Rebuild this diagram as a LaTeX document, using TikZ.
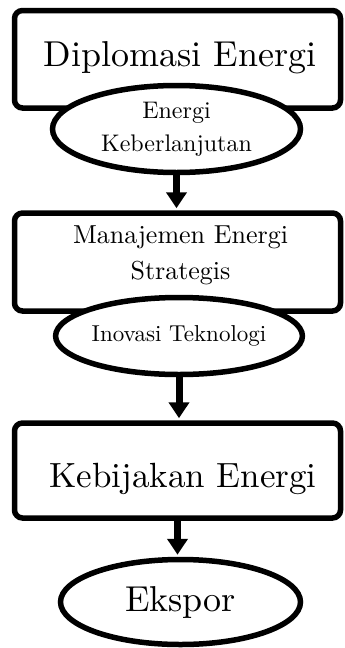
\documentclass[tikz,border=0pt]{standalone}
\usepackage{fontspec}
\setmainfont{lmroman10-regular.otf}
\usetikzlibrary{arrows.meta,shapes.geometric}
\definecolor{cInk}{HTML}{000000}
\tikzset{
  every node/.style={text=cInk},
  box/.style={draw=cInk, line width=5.5pt, rounded corners=8pt, minimum width=326pt, inner sep=0pt},
  oval/.style={ellipse, draw=cInk, fill=white, line width=5.5pt, inner sep=0pt, align=center},
  big/.style={font=\fontsize{36}{40}\selectfont},
  arr/.style={-{Triangle[width=20pt,length=16pt]}, line width=7pt, draw=cInk, shorten >=2pt},
}
\begin{document}
\begin{tikzpicture}[x=1pt,y=-1pt]
\useasboundingbox (0,0) rectangle (345,648);
% boxes
\node[box, minimum height=97.5pt] (dip) at (177.5,59.25) {};
\node[box, minimum height=98pt] (mes) at (177.5,262) {};
\node[box, minimum height=95pt] (keb) at (177.5,470.5) {};
\node[big] (dipT) at (180,57.7) {Diplomasi Energi};
\node[font=\fontsize{26}{36}\selectfont, align=center] (mesT) at (180.5,254.9) {Manajemen Energi\\Strategis};
\node[font=\fontsize{35}{40}\selectfont] (kebT) at (183,479) {Kebijakan Energi};
% ovals
\node[oval, minimum width=248pt, minimum height=87pt, font=\fontsize{24}{33}\selectfont] (ekb) at (176.5,129) {Energi\\Keberlanjutan};
\node[oval, minimum width=243pt, minimum height=77pt, font=\fontsize{23}{28}\selectfont] (ino) at (179,336) {Inovasi Teknologi};
\node[oval, big, minimum width=240pt, minimum height=85pt] (eks) at (180.5,602) {Ekspor};
% arrows
\draw[arr] (ekb.south) -- (ekb.south |- mes.north);
\draw[arr] (ino.south) -- (ino.south |- keb.north);
\draw[arr] (keb.south) -- (keb.south |- eks.north);
\end{tikzpicture}
\end{document}
